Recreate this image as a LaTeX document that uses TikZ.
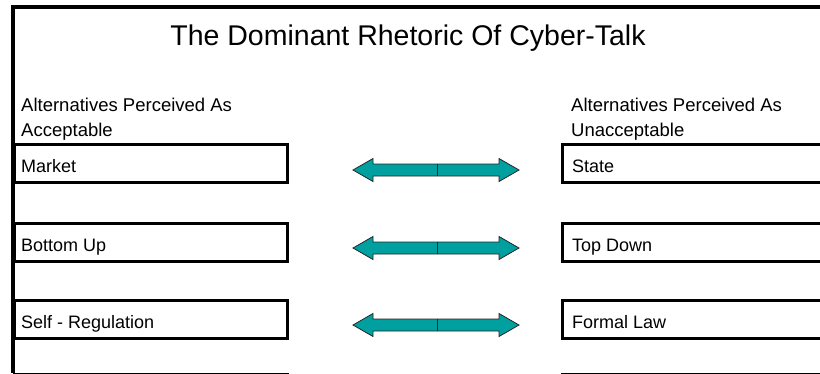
\documentclass[tikz,border=0pt]{standalone}
\usepackage{fontspec}
\setmainfont{Liberation Sans}
\definecolor{arrowteal}{RGB}{0,160,160}
\begin{document}
\begin{tikzpicture}[x=1pt,y=-1pt,
  box/.style={draw=black, line width=2.5pt, rectangle, inner sep=0pt, minimum height=38pt, anchor=north west},
  lbox/.style={box, minimum width=273pt},
  rbox/.style={box, minimum width=280pt},
  boxtext/.style={anchor=base west, inner sep=0pt, font=\fontsize{18}{22}\selectfont},
  head/.style={anchor=base west, inner sep=0pt, font=\fontsize{18.5}{22}\selectfont},
  barrow/.style={fill=arrowteal, draw=black!85, line width=0.8pt, line join=miter}]
\clip (0,0) rectangle (820,373);
\fill[white] (0,0) rectangle (820,373);
% frame
\coordinate (fb) at (13,373);
\coordinate (ftl) at (13,7);
\coordinate (ftr) at (820,7);
\draw[line width=3.5pt] (fb) -- (ftl) -- (ftr);
% title
\node[anchor=base, inner sep=0pt, font=\fontsize{28.5}{34}\selectfont] (title) at (408,45) {The Dominant Rhetoric Of Cyber-Talk};
% headers
\node[head] (hl1) at (21,111) {Alternatives Perceived As};
\node[head] (hl2) at (21,136) {Acceptable};
\node[head] (hr1) at (571,111) {Alternatives Perceived As};
\node[head] (hr2) at (571,136) {Unacceptable};
% left boxes
\node[lbox] (l1) at (13,143) {};
\node[lbox] (l2) at (13,222) {};
\node[lbox] (l3) at (13,299) {};
\node[lbox] (l4) at (13,373) {};
% right boxes
\node[rbox] (r1) at (561,143) {};
\node[rbox] (r2) at (561,222) {};
\node[rbox] (r3) at (561,299) {};
\node[rbox] (r4) at (561,373) {};
% texts
\node[boxtext] (t1) at (21,172) {Market};
\node[boxtext] (t2) at (21,251) {Bottom Up};
\node[boxtext] (t3) at (21,328) {Self - Regulation};
\node[boxtext] (u1) at (572,172) {State};
\node[boxtext] (u2) at (572,251) {Top Down};
\node[boxtext] (u3) at (572,328) {Formal Law};
% double arrows
\foreach \y in {170,248,325}{
  \draw[barrow] (353,\y) -- (373,\y-11.5) -- (373,\y-6) -- (499,\y-6) -- (499,\y-11.5) -- (519,\y)
     -- (499,\y+11.5) -- (499,\y+6) -- (373,\y+6) -- (373,\y+11.5) -- cycle;
  \draw[black!85, line width=0.8pt] (437,\y-6) -- (437,\y+6);
}
\end{tikzpicture}
\end{document}
